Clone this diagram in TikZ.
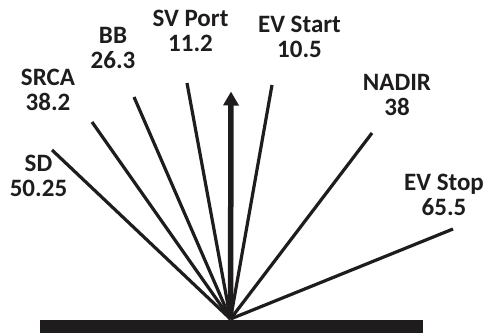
\documentclass[tikz,border=0pt]{standalone}
\usepackage{fontspec}
\setmainfont{Carlito}
\usetikzlibrary{arrows.meta}
\definecolor{ink}{RGB}{30,28,28}
\tikzset{
  ray/.style={draw=ink, line width=3.2pt},
  tag/.style={align=center, text=ink, inner sep=0pt,
    font=\fontsize{25}{25}\selectfont\bfseries},
}
\begin{document}
\begin{tikzpicture}[x=1pt, y=-1pt]
\useasboundingbox (0,0) rectangle (487,335);
% ground bar
\fill[ink] (40,320) rectangle (423,333);
% common origin of the rays
\coordinate (O) at (230.5,319);
% ray end points
\coordinate (sd)   at (52,150);
\coordinate (srca) at (92,122);
\coordinate (bb)   at (134,97);
\coordinate (svp)  at (187,83);
\coordinate (evs)  at (272,85);
\coordinate (nad)  at (372,133);
\coordinate (evx)  at (453,229);
\coordinate (up)   at (231,91.5);
\foreach \e in {sd,srca,bb,svp,evs,nad,evx}
  \draw[ray] (O) -- (\e);
% vertical arrow
\draw[ink, line width=5.5pt, -{Triangle[width=15pt,length=14pt]}] (O) -- (up);
% labels
\node[tag] (Lsd)   at (38.5,175.5) {SD\\50.25};
\node[tag] (Lsrca) at (48,89.5)   {SRCA\\38.2};
\node[tag] (Lbb)   at (113,47.5)  {BB\\26.3};
\node[tag] (Lsvp)  at (190.5,30.5){SV Port\\11.2};
\node[tag] (Levs)  at (299.5,36.5){EV Start\\10.5};
\node[tag] (Lnad)  at (397,94.5)  {NADIR\\38};
\node[tag] (Levx)  at (444,194.5) {EV Stop\\65.5};
\end{tikzpicture}
\end{document}
